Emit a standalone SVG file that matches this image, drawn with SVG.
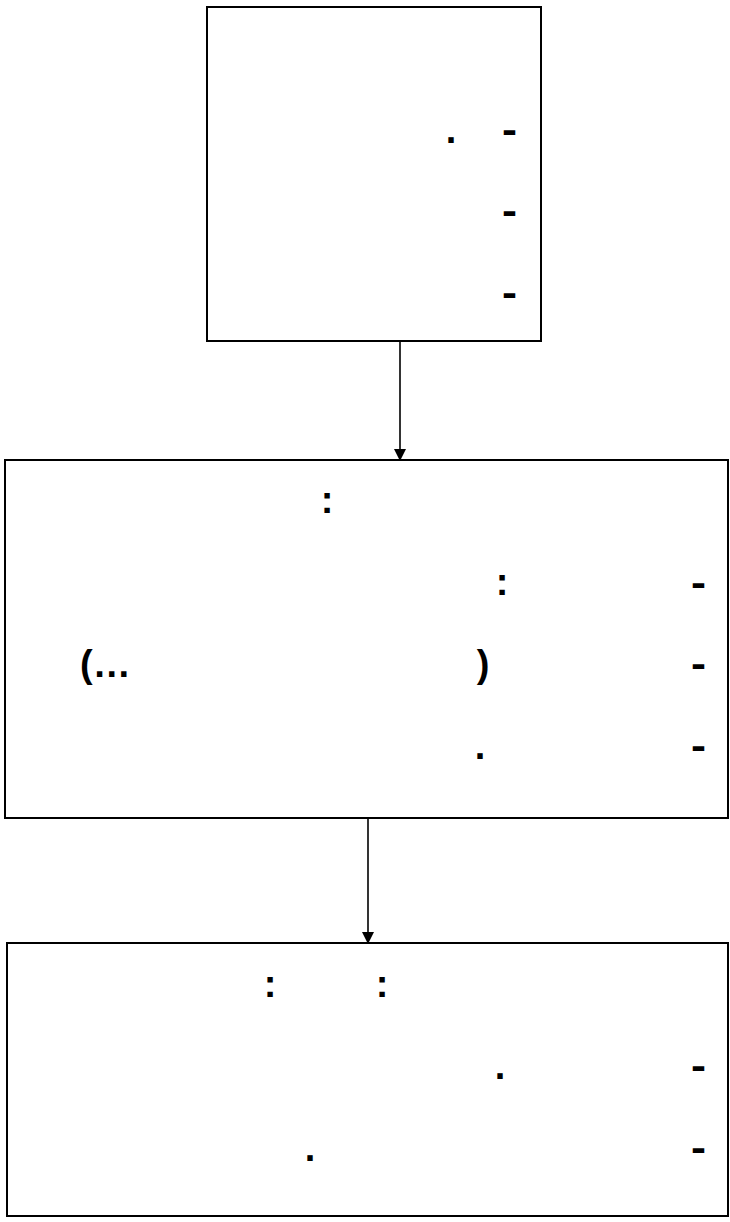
<svg xmlns="http://www.w3.org/2000/svg" width="730" height="1222" viewBox="0 0 730 1222">
<style>
.box{fill:#fff;stroke:#000;stroke-width:2}
.t{font-family:"Liberation Sans",Arial,sans-serif;font-size:38px;font-weight:bold;fill:#000;text-anchor:middle}
.d{font-family:"Liberation Sans",Arial,sans-serif;font-size:38px;font-weight:bold;fill:#000;text-anchor:middle}
.edge{stroke:#000;stroke-width:1.6;fill:none}
</style>
<defs>
<marker id="ah" markerWidth="12" markerHeight="12" refX="10" refY="6" orient="auto" markerUnits="userSpaceOnUse">
<path d="M0,0 L12,6 L0,12 Z" fill="#000"/>
</marker>
</defs>
<rect width="730" height="1222" fill="#fff"/>
<g id="connectors">
<line class="edge" x1="400" y1="341" x2="400" y2="459" marker-end="url(#ah)"/>
<line class="edge" x1="368" y1="818" x2="368" y2="942" marker-end="url(#ah)"/>
</g>
<g id="node1">
<rect class="box" x="207" y="7" width="334" height="334"/>
<text class="t" x="451" y="143">.</text>
<text class="d" x="509.5" y="143" textLength="15" lengthAdjust="spacingAndGlyphs">-</text>
<text class="d" x="509.5" y="224" textLength="15" lengthAdjust="spacingAndGlyphs">-</text>
<text class="d" x="509.5" y="306" textLength="15" lengthAdjust="spacingAndGlyphs">-</text>
</g>
<g id="node2">
<rect class="box" x="5" y="460" width="723" height="358"/>
<text class="t" x="327" y="513">:</text>
<text class="t" x="502" y="595">:</text>
<text class="d" x="698.5" y="596" textLength="15" lengthAdjust="spacingAndGlyphs">-</text>
<text class="t" x="80" y="677" style="text-anchor:start">(…</text>
<text class="t" x="483" y="677">)</text>
<text class="d" x="698.5" y="677" textLength="15" lengthAdjust="spacingAndGlyphs">-</text>
<text class="t" x="480" y="759">.</text>
<text class="d" x="698.5" y="759" textLength="15" lengthAdjust="spacingAndGlyphs">-</text>
</g>
<g id="node3">
<rect class="box" x="7" y="943" width="721" height="273"/>
<text class="t" x="270" y="997">:</text>
<text class="t" x="382" y="997">:</text>
<text class="t" x="500" y="1079">.</text>
<text class="d" x="698.5" y="1079" textLength="15" lengthAdjust="spacingAndGlyphs">-</text>
<text class="t" x="310" y="1161">.</text>
<text class="d" x="698.5" y="1161" textLength="15" lengthAdjust="spacingAndGlyphs">-</text>
</g>
</svg>
